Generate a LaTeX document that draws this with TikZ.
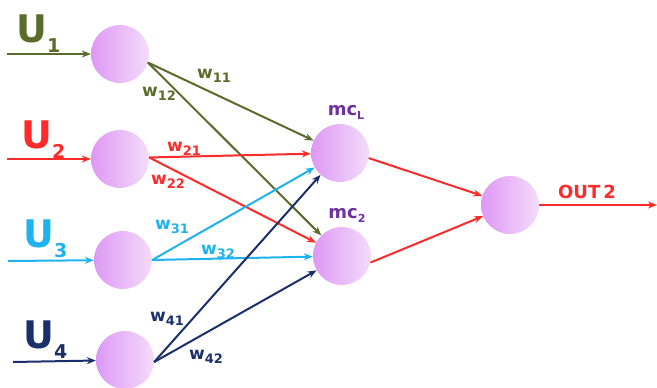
\documentclass[tikz,border=0pt]{standalone}
\usepackage{fontspec}
\setmainfont{DejaVu Sans}
\usetikzlibrary{arrows.meta}

\definecolor{olivec}{HTML}{5A6B2B}
\definecolor{redc}{HTML}{FF2A2A}
\definecolor{cyanc}{HTML}{1EB2EE}
\definecolor{navyc}{HTML}{1B2F6B}
\definecolor{purplec}{HTML}{7030A0}
\definecolor{ballL}{HTML}{DE98F5}
\definecolor{ballR}{HTML}{F4DCFA}

% weight label: bold w with a lowered index
\newcommand\wlab[1]{{\fontsize{17}{17}\selectfont w}\raisebox{-4pt}{\fontsize{13}{13}\selectfont #1}}
% input label: large U with a lowered index
\newcommand\ulab[1]{{\fontsize{38}{38}\selectfont U}\raisebox{-10pt}{\fontsize{19}{19}\selectfont #1}}
% hidden unit label
\newcommand\mclab[1]{{\fontsize{18}{18}\selectfont mc}\raisebox{-4pt}{\fontsize{11}{11}\selectfont #1}}

\begin{document}
\begin{tikzpicture}[x=1pt,y=-1pt,
  neuron/.style={circle, minimum size=58pt, inner sep=0pt, draw=none,
                 left color=ballL, right color=ballR},
  link/.style={line width=2pt, -{Stealth[length=9pt,width=7pt]}},
  lab/.style={font=\bfseries, inner sep=0pt}]
\useasboundingbox (0,0) rectangle (657,388);

% neurons
\node[neuron] (I1) at (120,54) {};
\node[neuron] (I2) at (120,159) {};
\node[neuron] (I3) at (123,260) {};
\node[neuron] (I4) at (125,360) {};
\node[neuron] (H1) at (340,153) {};
\node[neuron] (H2) at (342,256) {};
\node[neuron] (O)  at (510,205) {};

% free ends of the input and output lines
\coordinate (s1) at (7,54);
\coordinate (s2) at (7,159);
\coordinate (s3) at (8,261);
\coordinate (s4) at (13,362);
\coordinate (e0) at (657,205);

% inputs
\draw[link,olivec] (s1) -- (I1);
\draw[link,redc]   (s2) -- (I2);
\draw[link,cyanc]  (s3) -- (I3);
\draw[link,navyc]  (s4) -- (I4);

\node[lab,olivec,anchor=base west] (U1) at (16,42)  {\ulab{1}};
\node[lab,redc,anchor=base west]   (U2) at (21,148) {\ulab{2}};
\node[lab,cyanc,anchor=base west]  (U3) at (23,247) {\ulab{3}};
\node[lab,navyc,anchor=base west]  (U4) at (23,348) {\ulab{4}};

% weighted connections
\draw[link,olivec] (I1.-17) -- (H1);
\draw[link,olivec] (I1.-17) -- (H2);
\draw[link,redc]   (I2.3) -- (H1);
\draw[link,redc]   (I2.3) -- (H2);
\draw[link,cyanc]  (I3.east) -- (H1);
\draw[link,cyanc]  (I3.east) -- (H2);
\draw[link,navyc]  (I4.-4) -- (H1);
\draw[link,navyc]  (I4.-4) -- (H2);

\node[lab,olivec] (w11) at (214,76)  {\wlab{11}};
\node[lab,olivec] (w12) at (159,94)  {\wlab{12}};
\node[lab,redc]   (w21) at (184,149) {\wlab{21}};
\node[lab,redc]   (w22) at (168,182) {\wlab{22}};
\node[lab,cyanc]  (w31) at (172,227) {\wlab{31}};
\node[lab,cyanc]  (w32) at (218,252) {\wlab{32}};
\node[lab,navyc]  (w41) at (167,319) {\wlab{41}};
\node[lab,navyc]  (w42) at (206,357) {\wlab{42}};

% hidden to output
\draw[link,redc] (H1.-10) -- (O);
\draw[link,redc] (H2.-13) -- (O);
\draw[link,redc] (O.east) -- (e0);

\node[lab,purplec] (mc1) at (346,112) {\mclab{L}};
\node[lab,purplec] (mc2) at (347,215) {\mclab{2}};
\node[lab,redc] (out) at (587,192) {\fontsize{18}{18}\selectfont OUT\,2};
\end{tikzpicture}
\end{document}
